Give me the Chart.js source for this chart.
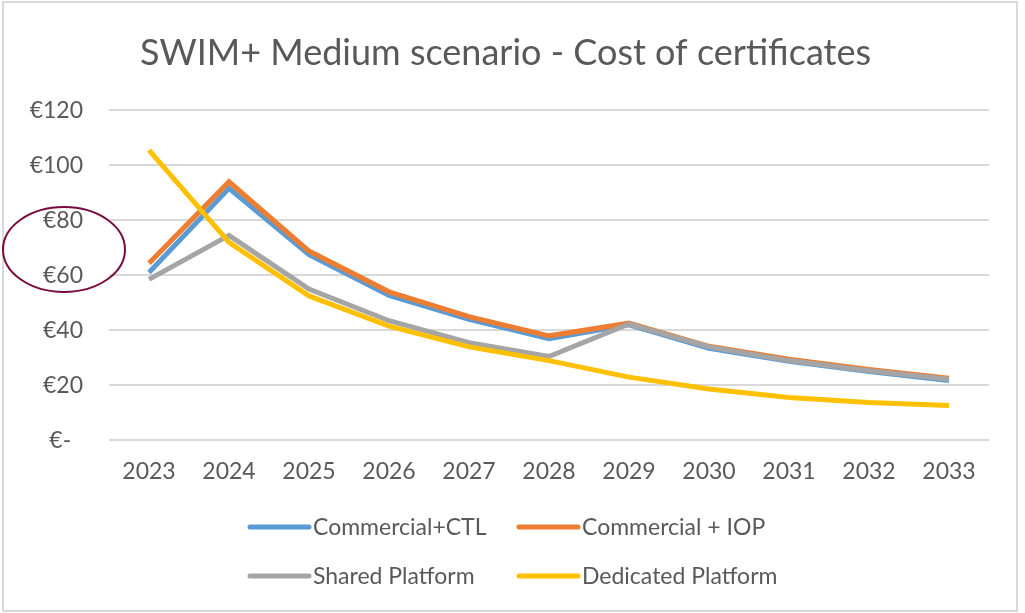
<!DOCTYPE html>
<html>
<head>
<meta charset="utf-8">
<script src="https://cdn.jsdelivr.net/npm/chart.js@4"></script>
<style>
  html, body { margin: 0; padding: 0; background: #fff; }
  #wrap { position: relative; width: 1025px; height: 613px; }
</style>
</head>
<body>
<div id="wrap"><canvas id="myChart"></canvas></div>
<script>
// data
const years = ["2023", "2024", "2025", "2026", "2027", "2028", "2029", "2030", "2031", "2032", "2033"];
const commercialCtl = [61, 91.6, 67.5, 52.7, 44, 37, 42, 33.5, 28.8, 25, 21.8];
const commercialIop = [64.4, 94, 68.8, 54, 45, 38, 42.6, 34.2, 29.5, 25.8, 22.6];
const sharedPlatform = [58.5, 74.5, 55, 43.5, 35.5, 30.5, 42.3, 34, 29, 25.3, 22.2];
const dedicatedPlatform = [105.5, 72, 52.5, 41.5, 34, 29, 23, 18.7, 15.6, 13.8, 12.7];
const yTicks = [0, 20, 40, 60, 80, 100, 120];

const textColor = "#595959";
const gridColor = "#d9d9d9";

// frame, the hand-drawn ellipse and the two-column legend
const decorPlugin = {
  id: "decor",
  beforeDraw(chart) {
    const c = chart.ctx;
    c.save();
    c.fillStyle = "#fff";
    c.fillRect(0, 0, chart.width, chart.height);
    c.strokeStyle = gridColor;
    c.lineWidth = 2;
    c.strokeRect(3, 2, 1014, 609);
    c.restore();
  },
  afterDraw(chart) {
    const c = chart.ctx;
    c.save();
    // ellipse round €80 / €60
    c.strokeStyle = "#7a0a3e";
    c.lineWidth = 2;
    c.beginPath();
    c.ellipse(64, 249.5, 61, 42.5, 0, 0, Math.PI * 2);
    c.stroke();

    // legend
    const cols = [247, 516];
    const rows = [527, 576];
    c.font = "23px Lato";
    c.textBaseline = "middle";
    c.fillStyle = textColor;
    c.lineCap = "round";
    chart.data.datasets.forEach(function (ds, i) {
      const x = cols[i % 2];
      const y = rows[Math.floor(i / 2)];
      c.strokeStyle = ds.borderColor;
      c.lineWidth = 5;
      c.beginPath();
      c.moveTo(x + 3, y);
      c.lineTo(x + 62, y);
      c.stroke();
      c.fillText(ds.label, x + 66, y + 1);
    });
    c.restore();
  },
};

function line(label, data, color, order) {
  return {
    label: label,
    data: data,
    borderColor: color,
    backgroundColor: color,
    borderWidth: 5,
    pointRadius: 0,
    tension: 0,
    order: order,
  };
}

new Chart(document.getElementById("myChart"), {
  type: "line",
  data: {
    labels: years,
    datasets: [
      line("Commercial+CTL", commercialCtl, "#5b9bd5", 3),
      line("Commercial + IOP", commercialIop, "#ed7d31", 2),
      line("Shared Platform", sharedPlatform, "#a5a5a5", 1),
      line("Dedicated Platform", dedicatedPlatform, "#ffc000", 0),
    ],
  },
  options: {
    responsive: true,
    maintainAspectRatio: false,
    animation: false,
    layout: {
      padding: { left: 22, right: 36, top: 0, bottom: 111 },
    },
    plugins: {
      legend: { display: false },
      tooltip: { enabled: false },
      title: {
        display: true,
        text: "SWIM+ Medium scenario - Cost of certificates",
        color: textColor,
        font: { family: "Lato", size: 36, weight: "normal" },
        padding: { top: 32, bottom: 35 },
      },
    },
    scales: {
      x: {
        offset: true,
        grid: { display: false, drawTicks: false },
        border: { display: false },
        ticks: {
          color: textColor,
          font: { family: "Lato", size: 23 },
          padding: 17,
          maxRotation: 0,
        },
      },
      y: {
        min: yTicks[0],
        max: yTicks[yTicks.length - 1],
        afterBuildTicks(axis) {
          axis.ticks = yTicks.map(function (v) { return { value: v }; });
        },
        afterFit(axis) {
          axis.width = 87;
        },
        grid: { color: gridColor, lineWidth: 2, drawTicks: false },
        border: { display: false },
        ticks: {
          color: textColor,
          font: { family: "Lato", size: 23 },
          padding: 26,
          callback: function (v) { return v === 0 ? "€-  " : "€" + v; },
        },
      },
    },
  },
  plugins: [decorPlugin],
});
</script>
</body>
</html>
